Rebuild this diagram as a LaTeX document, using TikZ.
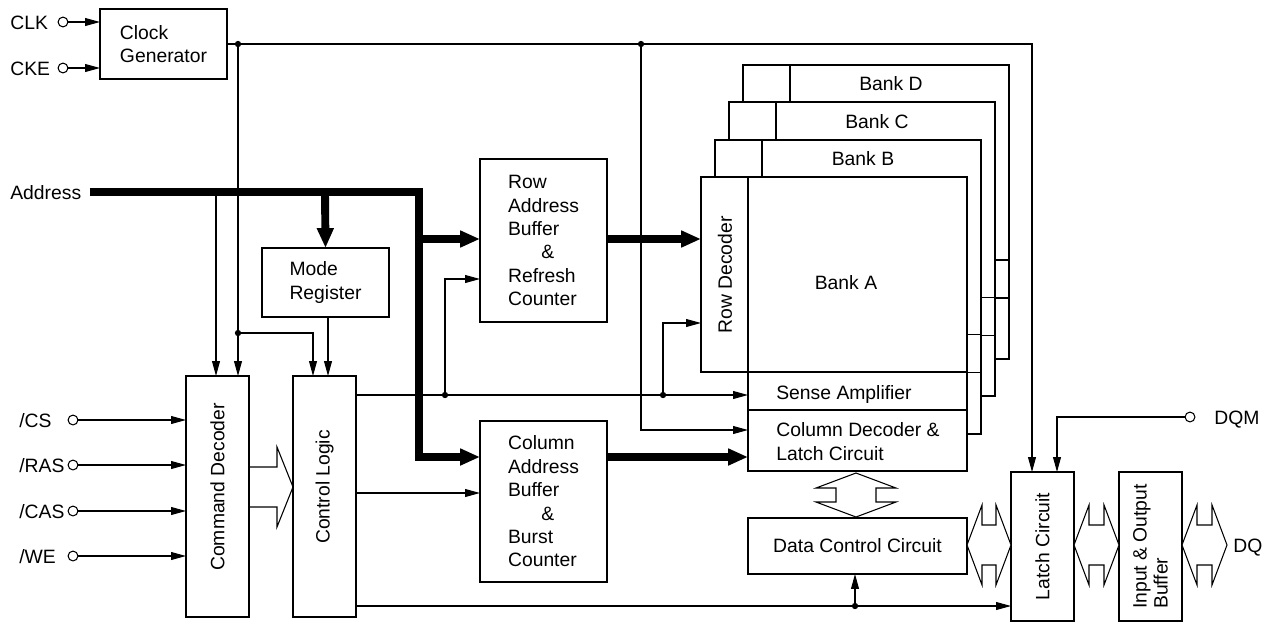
\documentclass[tikz,border=0pt]{standalone}
\usepackage{fontspec}
\setmainfont{Liberation Sans}
\usetikzlibrary{arrows.meta, calc}
\tikzset{
  blk/.style = {draw=black, line width=1.1pt, fill=white, inner sep=0pt,
    outer sep=0pt, align=left},
  boxsize/.style 2 args = {minimum width=#1*0.02cm, minimum height=#2*0.02cm},
  lbl/.style = {inner sep=0pt, text height=8pt, text depth=0pt},
  wire/.style = {line width=0.6pt},
  arr/.style = {wire, -{Triangle[length=8.5pt, width=4.5pt]}},
  bus/.style = {line width=4.5pt, line join=miter},
  busarr/.style = {bus, -{Triangle[length=11.3pt, width=9pt]}},
  portc/.style = {circle, draw, line width=0.6pt, fill=white, inner sep=0pt,
    minimum size=5.6pt},
  dot/.style = {circle, fill, inner sep=0pt, minimum size=3.6pt},
  bankline/.style = {line width=1.1pt, line join=miter}
}
\newcommand{\dblh}[3]{%
  \draw[wire, fill=white] (#1,#3) -- ({#1+15},{#3-40}) -- ({#1+15},{#3-20})
    -- ({#2-15},{#3-20}) -- ({#2-15},{#3-40}) -- (#2,#3) -- ({#2-15},{#3+40})
    -- ({#2-15},{#3+20}) -- ({#1+15},{#3+20}) -- ({#1+15},{#3+40}) -- cycle;}
\newcommand{\dblv}[3]{%
  \draw[wire, fill=white] (#1,#2) -- ({#1-40},{#2+15}) -- ({#1-20},{#2+15})
    -- ({#1-20},{#3-15}) -- ({#1-40},{#3-15}) -- (#1,#3) -- ({#1+40},{#3-15})
    -- ({#1+20},{#3-15}) -- ({#1+20},{#2+15}) -- ({#1+40},{#2+15}) -- cycle;}

\begin{document}
\begin{tikzpicture}[x=0.02cm, y=-0.02cm, font=\fontsize{11pt}{13.3pt}\selectfont]
\useasboundingbox (0,0) rectangle (1275,626);

% clock
\node[blk, boxsize={127}{70}, anchor=north west] (clkgen) at (100,9) {Clock\\Generator};
\node[lbl, anchor=west] at (10,22) {CLK};
\node[lbl, anchor=west] at (10,68) {CKE};
\node[portc] (clkp) at (63,22) {};
\node[portc] (ckep) at (63,68) {};
\draw[arr] (clkp) -- (clkp -| clkgen.west);
\draw[arr] (ckep) -- (ckep -| clkgen.west);

% command side
\node[blk, boxsize={63}{241}, anchor=north west] (cmddec) at (186,376) {};
\node[rotate=90] at (217.5,487) {Command Decoder};
\node[blk, boxsize={63}{241}, anchor=north west] (ctrl) at (293,376) {};
\node[rotate=90] at (324.5,487) {Control Logic};
\node[blk, boxsize={127}{69}, anchor=north west] (modereg) at (262,248) {Mode\\Register};
\foreach \nm/\y/\t in {cs/420/CS, ras/465/RAS, cas/511/CAS, we/556/WE} {
  \node[lbl, anchor=west] at (19,\y) {/\t};
  \node[portc] (\nm) at (73,\y) {};
  \draw[arr] (\nm) -- (\nm -| cmddec.west);
}
\draw[wire] (cmddec.east |- 0,467) -- (277,467) -- (277,447) -- (ctrl.west |- 0,487)
  -- (277,527) -- (277,507) -- (cmddec.east |- 0,507);

% address buffers
\node[blk, boxsize={127}{163}, anchor=north west] (rowbuf) at (480,159)
  {Row\\Address\\Buffer\\\hspace*{19pt}\&\\Refresh\\Counter};
\node[blk, boxsize={127}{161}, anchor=north west] (colbuf) at (480,421)
  {Column\\Address\\Buffer\\\hspace*{19pt}\&\\Burst\\Counter};

% banks
\foreach \k/\nm in {3/D, 2/C, 1/B} {
  \begin{scope}[shift={(14*\k,-37.33*\k)}]
    \draw[bankline, fill=white] (701,177) -- (967,177) -- (967,471) -- (748,471)
      -- (748,372) -- (701,372) -- cycle;
    \draw[wire] (748,177) -- (748,372) -- (967,372);
    \draw[wire] (748,410) -- (967,410);
    \node[inner sep=0pt] at (849,196) {Bank \nm};
  \end{scope}
}
\draw[bankline, fill=white] (701,177) -- (967,177) -- (967,471) -- (748,471)
  -- (748,372) -- (701,372) -- cycle;
\draw[wire] (748,177) -- (748,372) -- (967,372);
\draw[wire] (748,410) -- (967,410);
\node[boxsize={47}{195}, inner sep=0pt, anchor=north west] (rowdec) at (701,177) {};
\node[rotate=90] at (rowdec.center) {Row Decoder};
\node[inner sep=0pt] (banka) at (846,283) {Bank A};
\node[boxsize={219}{38}, inner sep=0pt, anchor=north west] (senseamp) at (748,372) {};
\node[lbl, anchor=west] at (776,392) {Sense Amplifier};
\node[boxsize={219}{61}, inner sep=0pt, anchor=north west] (coldec) at (748,410) {};
\node[inner sep=0pt, anchor=west, align=left] at (776,441.5) {Column Decoder \&\\Latch Circuit};

% data path
\node[blk, boxsize={219}{56}, anchor=north west, align=center] (dcc) at (748,518) {Data Control Circuit};
\node[blk, boxsize={63}{149}, anchor=north west] (latch) at (1011,472) {};
\node[rotate=90] at (latch.center) {Latch Circuit};
\node[blk, boxsize={63}{149}, anchor=north west] (iobuf) at (1119,472) {};
\node[rotate=90, align=left, font=\fontsize{11pt}{12pt}\selectfont] at (iobuf.center) {Input \& Output\\Buffer};
\dblv{856}{473}{517}
\dblh{967}{1011}{545}
\dblh{1074}{1119}{545}
\dblh{1182}{1227}{545}
\node[lbl, anchor=west] at (1233,545) {DQ};
\node[portc] (dqmp) at (1190,417) {};
\node[lbl, anchor=west] at (1214,417) {DQM};
\draw[arr] (dqmp) -| ($(latch.north west)+(46,0)$);

% clock wires
\coordinate (ck1) at (238,44);
\coordinate (ck2) at (641,44);
\coordinate (ck3) at (238,333);
\draw[arr] (clkgen.east) -| ($(latch.north west)+(21,0)$);
\draw[arr] (ck1) -- (ck1 |- cmddec.north);
\draw[arr] (ck3) -| ($(ctrl.north west)+(20,0)$);
\draw[arr] (ck2) |- (coldec.west |- 0,430);
\draw[arr] (328,0 |- modereg.south) -- (328,0 |- ctrl.north);
\draw[arr] (216,192) -- (216,0 |- cmddec.north);

% control wires
\coordinate (cl1) at (445,395);
\coordinate (cl2) at (663,395);
\coordinate (cl3) at (855,606);
\draw[arr] (ctrl.east |- 0,395) -- (senseamp.west |- 0,395);
\draw[arr] (cl1) |- (rowbuf.west |- 0,279);
\draw[arr] (cl2) |- (rowdec.west |- 0,323);
\draw[arr] (ctrl.east |- 0,493) -- (colbuf.west |- 0,493);
\draw[arr] (ctrl.east |- 0,606) -- (latch.west |- 0,606);
\draw[arr] (cl3) -- (cl3 |- dcc.south);
\foreach \j in {ck1, ck2, ck3, cl1, cl2, cl3}
  \node[dot] at (\j) {};

% address bus
\node[lbl, anchor=west] at (10,192) {Address};
\coordinate (addr) at (90,192);
\draw[busarr] (addr) -| (419,457) -- (colbuf.west |- 0,457);
\draw[busarr] (419,239) -- (rowbuf.west |- 0,239);
\draw[busarr] (325,192) -- (modereg.north);
\draw[busarr] (rowbuf.east |- 0,239) -- (rowdec.west |- 0,239);
\draw[busarr] (colbuf.east |- 0,457) -- (coldec.west |- 0,457);
\end{tikzpicture}
\end{document}
